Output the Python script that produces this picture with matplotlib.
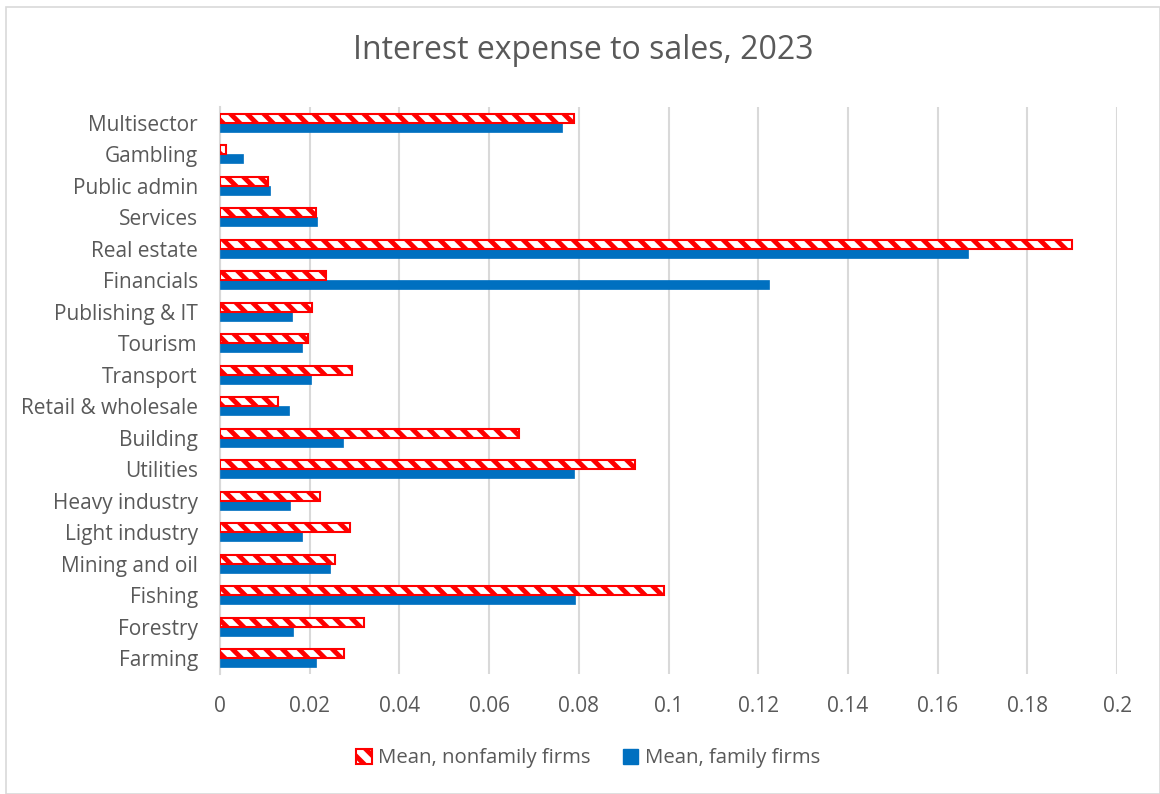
import numpy as np
import matplotlib
matplotlib.use("Agg")
import matplotlib.pyplot as plt
from matplotlib.patches import Rectangle, Patch

# Data (bottom to top)
sectors = ["Farming", "Forestry", "Fishing", "Mining and oil", "Light industry",
           "Heavy industry", "Utilities", "Building", "Retail & wholesale",
           "Transport", "Tourism", "Publishing & IT", "Financials", "Real estate",
           "Services", "Public admin", "Gambling", "Multisector"]
nonfamily = [0.0277, 0.0321, 0.0989, 0.0256, 0.0290, 0.0222, 0.0925, 0.0666, 0.0130,
             0.0295, 0.0196, 0.0206, 0.0236, 0.1900, 0.0215, 0.0106, 0.0014, 0.0789]
family = [0.0213, 0.0163, 0.0792, 0.0245, 0.0183, 0.0157, 0.0790, 0.0275, 0.0153,
          0.0202, 0.0182, 0.0160, 0.1224, 0.1667, 0.0217, 0.0112, 0.0052, 0.0763]
xticks = [0, 0.02, 0.04, 0.06, 0.08, 0.1, 0.12, 0.14, 0.16, 0.18, 0.2]
xtick_labels = ["0", "0.02", "0.04", "0.06", "0.08", "0.1", "0.12", "0.14", "0.16", "0.18", "0.2"]

TEXT = "#595959"
RED = "#FF0000"
BLUE = "#0070C0"

plt.rcParams["font.family"] = ["Open Sans", "DejaVu Sans"]
plt.rcParams["hatch.linewidth"] = 3.5
plt.rcParams["hatch.color"] = RED

fig = plt.figure(figsize=(11.6, 7.94), dpi=100)
ax = fig.add_axes([0.1897, 0.1511, 0.7733, 0.7141])

y = np.arange(len(sectors))
h = 0.28
ax.barh(y - h / 2, family, height=h, color=BLUE, edgecolor=BLUE, linewidth=0.5,
        label="Mean, family firms", zorder=3)
ax.barh(y + h / 2, nonfamily, height=h, color="white", edgecolor=RED, linewidth=1.5,
        hatch="\\\\", label="Mean, nonfamily firms", zorder=3)

ax.set_xlim(0, 0.2)
ax.set_ylim(-0.5, len(sectors) - 0.5)
ax.set_yticks(y)
ax.set_yticklabels(sectors, fontsize=15, color=TEXT)
ax.set_xticks(xticks)
ax.set_xticklabels(xtick_labels, fontsize=15, color=TEXT)
ax.tick_params(axis="both", length=0)
ax.tick_params(axis="y", pad=16)
ax.tick_params(axis="x", pad=16)
ax.grid(axis="x", color="#D9D9D9", linewidth=1.5, zorder=0)
for s in ["top", "right", "bottom"]:
    ax.spines[s].set_visible(False)
ax.spines["left"].set_color("#D9D9D9")
ax.spines["left"].set_linewidth(1.5)

fig.text(0.503, 0.937, "Interest expense to sales, 2023", ha="center", va="center",
         fontsize=23, color=TEXT)

handles = [Patch(facecolor="white", edgecolor=RED, hatch="\\\\", linewidth=1.5),
           Patch(facecolor=BLUE, edgecolor=BLUE)]
leg = fig.legend(handles, ["Mean, nonfamily firms", "Mean, family firms"],
                 loc="center", bbox_to_anchor=(0.507, 0.045), ncol=2, frameon=False,
                 fontsize=14.7, handlelength=0.75, handleheight=0.75, handletextpad=0.3,
                 columnspacing=1.6)
for t in leg.get_texts():
    t.set_color(TEXT)

# chart frame
fig.patches.append(Rectangle((0.005, 0.0), 0.995, 0.991, transform=fig.transFigure,
                             fill=False, edgecolor="#D9D9D9", linewidth=1.2))

fig.savefig("out.png", dpi=100)
